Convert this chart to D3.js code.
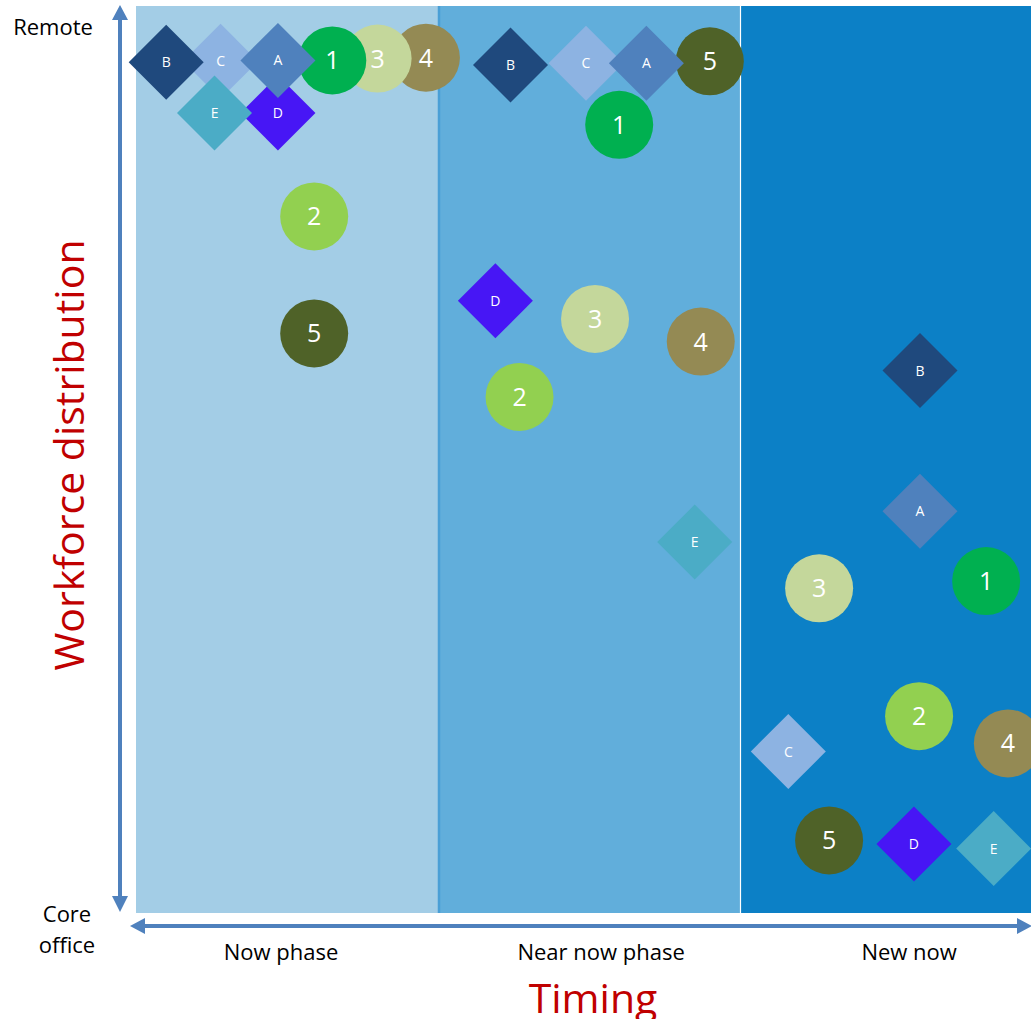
<!DOCTYPE html>
<html>
<head>
<meta charset="utf-8">
<script src="https://cdn.jsdelivr.net/npm/d3@7"></script>
<style>
  html, body { margin: 0; padding: 0; background: #fff; }
  svg { display: block; }
</style>
</head>
<body>
<svg id="chart" width="1031" height="1019"></svg>
<script>
// phases along the timing axis
const phases = ['Now phase', 'Near now phase', 'New now'];
const phaseColors = ['#a3cde6', '#61aedb', '#0c80c6'];
const phaseLabelPos = [0.48, 1.54, 2.56];

// markers: A-E diamonds, 1-5 circles
const markerIds = ['A', 'B', 'C', 'D', 'E', '1', '2', '3', '4', '5'];
const markerColors = ['#4f81bd', '#1f497d', '#8db3e2', '#4716f5', '#4bacc6',
                      '#00b050', '#92d050', '#c4d79b', '#948a54', '#4f6228'];

// timing (0-3) and workforce (0 core office .. 100 remote) per phase
const nowTiming  = [0.47, 0.10, 0.28, 0.47, 0.26, 0.65, 0.59, 0.80, 0.96, 0.59];
const nowRemote  = [94.0, 93.8, 93.9, 88.2, 88.2, 94.0, 76.8, 94.2, 94.3, 63.9];
const nearTiming = [1.69, 1.24, 1.49, 1.19, 1.85, 1.60, 1.27, 1.52, 1.87, 1.90];
const nearRemote = [93.7, 93.5, 93.7, 67.5, 40.9, 86.9, 56.9, 65.5, 63.0, 93.9];
const newTiming  = [2.596, 2.596, 2.16, 2.576, 2.84, 2.815, 2.593, 2.262, 2.887, 2.295];
const newRemote  = [44.3, 59.8, 17.8, 7.6, 7.1, 36.6, 21.7, 35.8, 18.7, 8.0];

// order of painting (later on top)
const drawOrder = ['4', '3', '1', '2', '5', 'C', 'D', 'E', 'B', 'A'];

const svg = d3.select('#chart');
const font = "'Open Sans', 'Noto Sans', sans-serif";

const x = d3.scaleLinear().domain([0, 3]).range([136, 1042]);
const y = d3.scaleLinear().domain([0, 100]).range([913, 6]);

// 1. bands
svg.append('g').selectAll('rect')
  .data(phases)
  .enter().append('rect')
  .attr('x', (d, i) => x(i))
  .attr('y', y(100))
  .attr('width', (d, i) => x(i + 1) - x(i))
  .attr('height', y(0) - y(100))
  .attr('fill', (d, i) => phaseColors[i]);

// band separators
svg.append('line')
  .attr('x1', x(1) + 1).attr('x2', x(1) + 1)
  .attr('y1', y(100)).attr('y2', y(0))
  .attr('stroke', '#4a9fd6').attr('stroke-width', 2.5);
svg.append('line')
  .attr('x1', x(2) + 0.5).attr('x2', x(2) + 0.5)
  .attr('y1', y(100)).attr('y2', y(0))
  .attr('stroke', '#ffffff').attr('stroke-width', 1.2);

// 2. axes arrows
const axisColor = '#4f81bd';
const ax = 120, ay = 926;
svg.append('line')
  .attr('x1', ax).attr('x2', ax).attr('y1', 18).attr('y2', 898)
  .attr('stroke', axisColor).attr('stroke-width', 4);
svg.append('path')
  .attr('d', `M${ax},5 L${ax - 8},20 L${ax + 8},20 Z M${ax},912 L${ax - 8},896 L${ax + 8},896 Z`)
  .attr('fill', axisColor);
svg.append('line')
  .attr('x1', 143).attr('x2', 1018).attr('y1', ay).attr('y2', ay)
  .attr('stroke', axisColor).attr('stroke-width', 4);
svg.append('path')
  .attr('d', `M130,${ay} L145,${ay - 8} L145,${ay + 8} Z M1032,${ay} L1017,${ay - 8} L1017,${ay + 8} Z`)
  .attr('fill', axisColor);

// 3. markers
const markers = [];
[[nowTiming, nowRemote], [nearTiming, nearRemote], [newTiming, newRemote]].forEach(([tx, ty], p) => {
  markerIds.forEach((id, i) => {
    markers.push({ id, phase: p, t: tx[i], r: ty[i], color: markerColors[i], diamond: isNaN(+id) });
  });
});
markers.sort((a, b) => drawOrder.indexOf(a.id) - drawOrder.indexOf(b.id));

const g = svg.append('g').attr('class', 'markers');
const m = g.selectAll('g')
  .data(markers)
  .enter().append('g')
  .attr('transform', d => `translate(${x(d.t)},${y(d.r)})`);

m.filter(d => !d.diamond).append('circle')
  .attr('r', 34)
  .attr('fill', d => d.color);
m.filter(d => d.diamond).append('path')
  .attr('d', 'M0,-37.5 L37.5,0 L0,37.5 L-37.5,0 Z')
  .attr('fill', d => d.color);

m.append('text')
  .attr('text-anchor', 'middle')
  .attr('dy', '0.36em')
  .attr('fill', '#fff')
  .style('font-family', font)
  .style('font-size', d => d.diamond ? '14px' : '25px')
  .text(d => d.id);

// 4. texts
svg.append('text').attr('x', 53).attr('y', 35).attr('text-anchor', 'middle')
  .style('font-family', font).style('font-size', '22px').attr('fill', '#000').text('Remote');
svg.append('text').attr('x', 67).attr('y', 922).attr('text-anchor', 'middle')
  .style('font-family', font).style('font-size', '22px').attr('fill', '#000').text('Core');
svg.append('text').attr('x', 67).attr('y', 953).attr('text-anchor', 'middle')
  .style('font-family', font).style('font-size', '22px').attr('fill', '#000').text('office');

svg.append('g').selectAll('text')
  .data(phases)
  .enter().append('text')
  .attr('x', (d, i) => x(phaseLabelPos[i]))
  .attr('y', 960)
  .attr('text-anchor', 'middle')
  .style('font-family', font).style('font-size', '22px')
  .attr('fill', '#000')
  .text(d => d);

svg.append('text').attr('x', 593).attr('y', 1013).attr('text-anchor', 'middle')
  .style('font-family', font).style('font-size', '41px').attr('fill', '#c00000').text('Timing');
svg.append('text')
  .attr('transform', 'translate(84,455) rotate(-90)')
  .attr('text-anchor', 'middle')
  .style('font-family', font).style('font-size', '41px').attr('fill', '#c00000')
  .text('Workforce distribution');
</script>
</body>
</html>
